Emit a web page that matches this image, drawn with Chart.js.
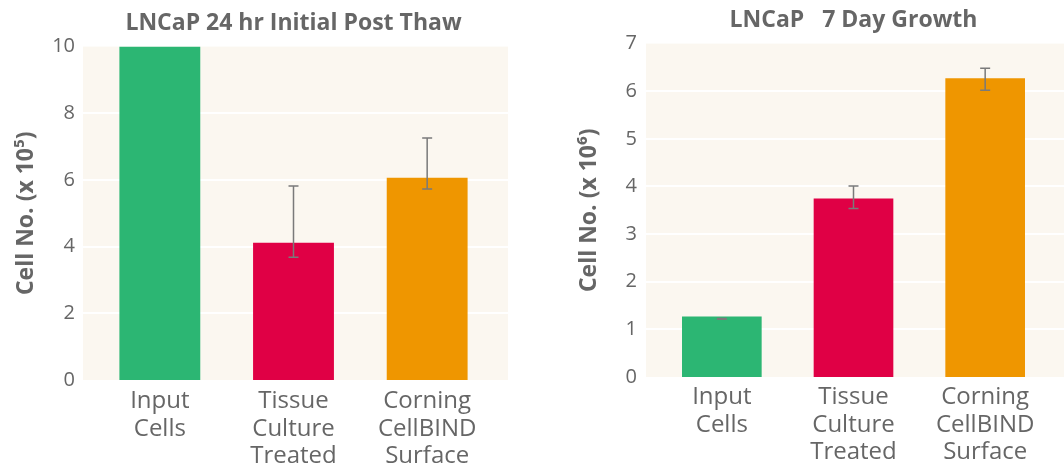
<!DOCTYPE html>
<html>
<head>
<meta charset="utf-8">
<script src="https://cdn.jsdelivr.net/npm/chart.js"></script>
<style>
  body { margin: 0; background: #fff; width: 1064px; height: 466px; overflow: hidden; position: relative; }
  canvas { position: absolute; top: 0; }
  #thaw { left: 0; }
  #growth { left: 540px; }
</style>
</head>
<body>
<canvas id="thaw" width="520" height="466"></canvas>
<canvas id="growth" width="524" height="466"></canvas>
<script>
// data
const categories = [['Input', 'Cells'], ['Tissue', 'Culture', 'Treated'], ['Corning', 'CellBIND', 'Surface']];
const barColors = ['#2cb673', '#e00045', '#ef9600'];

const thawValues = [10, 4.12, 6.07];
const thawErrLow = [null, 3.68, 5.73];
const thawErrHigh = [null, 5.82, 7.26];

const growthValues = [1.27, 3.75, 6.27];
const growthErrLow = [1.21, 3.54, 6.02];
const growthErrHigh = [1.23, 4.01, 6.48];

const textGray = '#666666';
const font = "'Open Sans', 'Noto Sans', sans-serif";

// cream panel + white gridlines, a bit wider than the chart area
const panelPlugin = {
  id: 'panel',
  beforeDatasetsDraw(chart, args, opts) {
    const { ctx, chartArea } = chart;
    const y = chart.scales.y;
    const left = chartArea.left - opts.extendLeft;
    const right = chartArea.right + opts.extendRight;
    ctx.save();
    ctx.fillStyle = '#fbf7f0';
    ctx.fillRect(left, chartArea.top, right - left, chartArea.bottom - chartArea.top);
    ctx.strokeStyle = '#ffffff';
    ctx.lineWidth = 2;
    y.ticks.forEach((t, i) => {
      if (i === 0 || i === y.ticks.length - 1) return;
      const py = Math.round(y.getPixelForValue(t.value));
      ctx.beginPath();
      ctx.moveTo(left, py);
      ctx.lineTo(right, py);
      ctx.stroke();
    });
    ctx.restore();
  }
};

// asymmetric error bars
const errorPlugin = {
  id: 'errbars',
  afterDatasetsDraw(chart, args, opts) {
    const { ctx } = chart;
    const y = chart.scales.y;
    const meta = chart.getDatasetMeta(0);
    ctx.save();
    ctx.strokeStyle = '#7a7a7a';
    ctx.lineWidth = 1.5;
    meta.data.forEach((bar, i) => {
      if (opts.low[i] == null) return;
      const x = bar.x;
      const y1 = y.getPixelForValue(opts.low[i]);
      const y2 = y.getPixelForValue(opts.high[i]);
      ctx.beginPath();
      ctx.moveTo(x, y1); ctx.lineTo(x, y2);
      ctx.moveTo(x - 5, y1); ctx.lineTo(x + 5, y1);
      ctx.moveTo(x - 5, y2); ctx.lineTo(x + 5, y2);
      ctx.stroke();
    });
    ctx.restore();
  }
};

function makeChart(id, cfg) {
  return new Chart(document.getElementById(id), {
    type: 'bar',
    data: {
      labels: categories,
      datasets: [{
        data: cfg.values,
        backgroundColor: barColors,
        barPercentage: 0.605,
        categoryPercentage: 1
      }]
    },
    options: {
      responsive: false,
      animation: false,
      layout: { padding: { left: 0, right: cfg.padRight, top: 0, bottom: 0 } },
      plugins: {
        legend: { display: false },
        tooltip: { enabled: false },
        title: {
          display: true,
          text: cfg.title,
          fullSize: false,
          color: textGray,
          font: { family: font, size: 23, weight: 'bold' },
          padding: { top: cfg.titleTop, bottom: cfg.titleBottom }
        },
        panel: { extendLeft: cfg.extendLeft, extendRight: cfg.extendRight },
        errbars: { low: cfg.errLow, high: cfg.errHigh }
      },
      scales: {
        x: {
          grid: { display: false, drawTicks: false },
          border: { display: false },
          ticks: { color: textGray, font: { family: font, size: 24, lineHeight: 1.13 }, padding: cfg.xPad, maxRotation: 0 },
          afterFit(scale) { scale.height = cfg.xHeight; }
        },
        y: {
          min: 0,
          max: cfg.max,
          grid: { display: false, drawTicks: false },
          border: { display: false },
          ticks: { stepSize: cfg.step, color: textGray, font: { family: font, size: 20 }, padding: cfg.yPad },
          title: {
            display: true,
            text: cfg.yTitle,
            color: textGray,
            font: { family: font, size: 23, weight: 'bold' },
            padding: { top: cfg.yTitlePad, bottom: 0 }
          },
          afterFit(scale) { scale.width = cfg.yWidth; }
        }
      }
    },
    plugins: [panelPlugin, errorPlugin]
  });
}

makeChart('thaw', {
  title: 'LNCaP 24 hr Initial Post Thaw',
  yTitle: 'Cell No. (x 10\u2075)',
  values: thawValues, errLow: thawErrLow, errHigh: thawErrHigh,
  max: 10, step: 2,
  padRight: 26, yWidth: 93, xHeight: 86,
  titleTop: 10, titleBottom: 9,
  xPad: 8, yPad: 18, yTitlePad: 13,
  extendLeft: 10, extendRight: 14
});

makeChart('growth', {
  title: 'LNCaP   7 Day Growth',
  yTitle: 'Cell No. (x 10\u2076)',
  values: growthValues, errLow: growthErrLow, errHigh: growthErrHigh,
  max: 7, step: 1,
  padRight: 13, yWidth: 116, xHeight: 89,
  titleTop: 7, titleBottom: 9,
  xPad: 7, yPad: 19, yTitlePad: 36,
  extendLeft: 10, extendRight: 13
});
</script>
</body>
</html>
